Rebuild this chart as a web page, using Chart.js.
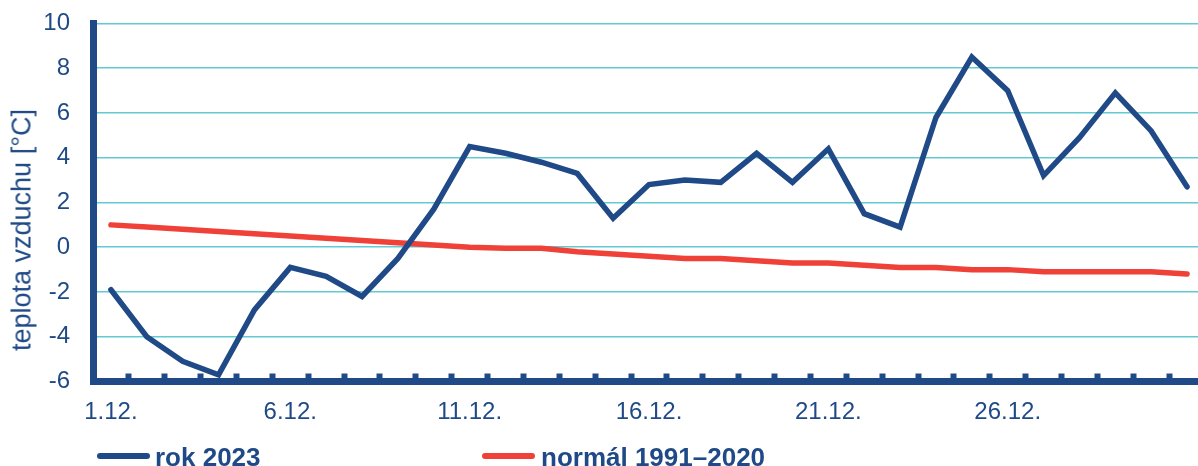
<!DOCTYPE html>
<html>
<head>
<meta charset="utf-8">
<script src="https://cdn.jsdelivr.net/npm/chart.js@4.4.1/dist/chart.umd.min.js"></script>
<style>
  html, body { margin: 0; padding: 0; background: #ffffff; overflow: hidden; width: 1198px; height: 466px; }
  #wrap { position: relative; width: 1205px; height: 466px; }
  #c { position: absolute; left: 0; top: 0; }
  .ytitle { position: absolute; left: 22px; top: 230px; transform: translate(-50%, -50%) rotate(-90deg);
            font: 27px "Liberation Sans", Arial, sans-serif; line-height: 27px; color: #1F4A87; white-space: nowrap; }
  .lg-line { position: absolute; height: 6px; border-radius: 3px; top: 453px; width: 53px; }
  .lg-text { position: absolute; top: 444px; font: bold 26px "Liberation Sans", Arial, sans-serif; line-height: 26px;
             color: #1F4A87; white-space: nowrap; }
</style>
</head>
<body>
<div id="wrap">
  <canvas id="c" width="1205" height="466"></canvas>
  <div class="ytitle">teplota vzduchu [°C]</div>
  <div class="lg-line" style="left:97px;background:#1F4A87"></div>
  <div class="lg-text" style="left:155px">rok 2023</div>
  <div class="lg-line" style="left:482px;background:#EF4138"></div>
  <div class="lg-text" style="left:541px">normál 1991–2020</div>
</div>
<script>
const days = ['1.12.','2.12.','3.12.','4.12.','5.12.','6.12.','7.12.','8.12.','9.12.','10.12.',
              '11.12.','12.12.','13.12.','14.12.','15.12.','16.12.','17.12.','18.12.','19.12.','20.12.',
              '21.12.','22.12.','23.12.','24.12.','25.12.','26.12.','27.12.','28.12.','29.12.','30.12.','31.12.'];
const shownLabels = ['1.12.','6.12.','11.12.','16.12.','21.12.','26.12.'];
const rok2023 = [-1.9,-4.0,-5.1,-5.7,-2.8,-0.9,-1.3,-2.2,-0.5,1.7,
                 4.5,4.2,3.8,3.3,1.3,2.8,3.0,2.9,4.2,2.9,
                 4.4,1.5,0.9,5.8,8.5,7.0,3.2,4.9,6.9,5.2,2.7];
const normal = [1.0,0.9,0.8,0.7,0.6,0.5,0.4,0.3,0.2,0.1,
                0.0,-0.05,-0.05,-0.2,-0.3,-0.4,-0.5,-0.5,-0.6,-0.7,
                -0.7,-0.8,-0.9,-0.9,-1.0,-1.0,-1.1,-1.1,-1.1,-1.1,-1.2];
const yTicks = [-6,-4,-2,0,2,4,6,8,10];

const BLUE = '#1F4A87';
const RED = '#EF4138';
const GRID = '#62CAD3';
const FONT = '"Liberation Sans", Arial, sans-serif';

new Chart(document.getElementById('c'), {
  type: 'line',
  data: {
    labels: days,
    datasets: [
      { label: 'rok 2023', data: rok2023, borderColor: BLUE, borderWidth: 5.5,
        pointRadius: 0, tension: 0, borderCapStyle: 'round', fill: false },
      { label: 'normál 1991–2020', data: normal, borderColor: RED, borderWidth: 5.5,
        pointRadius: 0, tension: 0, borderCapStyle: 'round', fill: false }
    ]
  },
  options: {
    responsive: false,
    animation: false,
    devicePixelRatio: 1,
    layout: { padding: { top: 23.5, right: 0, bottom: 34.5, left: 0 } },
    plugins: { legend: { display: false }, tooltip: { enabled: false } },
    scales: {
      x: {
        type: 'category',
        offset: true,
        grid: { display: true, offset: true, drawOnChartArea: false, drawTicks: true,
                tickLength: -8, tickWidth: 6, tickColor: BLUE, color: BLUE },
        border: { display: true, color: BLUE, width: 7 },
        ticks: {
          autoSkip: false, maxRotation: 0, minRotation: 0, padding: 24,
          color: BLUE, font: { family: FONT, size: 24 },
          callback: function(v, i) { const l = days[i]; return shownLabels.includes(l) ? l : ''; }
        },
        afterFit: function(s) { s.height = 50; s.paddingLeft = 0; s.paddingRight = 0; }
      },
      y: {
        min: -6, max: 10,
        afterBuildTicks: function(s) { s.ticks = yTicks.map(v => ({ value: v })); },
        grid: { color: GRID, lineWidth: 1.6, drawTicks: false },
        border: { display: true, color: BLUE, width: 7 },
        ticks: { padding: 23, color: BLUE, font: { family: FONT, size: 24 },
                 callback: function(v) { return String(v); } },
        afterFit: function(s) { s.width = 93; s.paddingTop = 0; s.paddingBottom = 0; }
      }
    }
  }
});
</script>
</body>
</html>
